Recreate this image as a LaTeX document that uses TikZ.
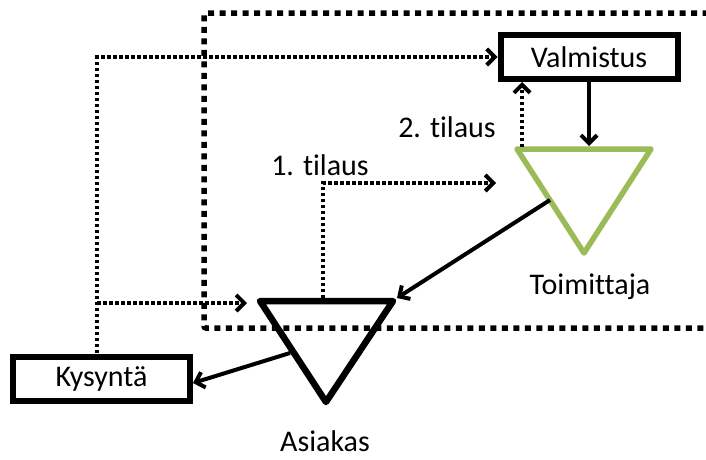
\documentclass[tikz,border=0pt]{standalone}
\usepackage{fontspec}
\setmainfont{Carlito}[Ligatures=NoCommon]
\usetikzlibrary{arrows.meta}
\definecolor{tgreen}{HTML}{9BBB59}
\begin{document}
\begin{tikzpicture}[x=1pt,y=-1pt,
  txt/.style={font=\fontsize{30}{33}\selectfont},
  box/.style={draw,line width=6pt,minimum width=177pt,minimum height=44pt,inner sep=0pt,txt},
  lbl/.style={inner sep=0pt,txt},
  barb/.style={-{Straight Barb[length=8pt,width=16pt]}},
  flow/.style={line width=4pt,barb},
  info/.style={line width=4pt,dash pattern=on 3.5pt off 2.5pt,barb},
  frame/.style={line width=5.5pt,dash pattern=on 6pt off 5.5pt}]
\useasboundingbox (0,0) rectangle (706,459);
\clip (0,0) rectangle (706,459);
% big dotted frame
\draw[frame,rounded corners=2pt] (720,13) -- (204,13) -- (204,328) -- (720,328);
% boxes
\node[box] (valm) at (589,57) {Valmistus};
\node[box] (kys) at (101.5,379) {Kysyntä};
% triangles
\draw[line width=5.5pt,tgreen,line join=round] (517,149) -- (651,149) -- (584,253) -- cycle;
\draw[line width=6.5pt,line join=round] (260,301) -- (393,301) -- (326,402) -- cycle;
\coordinate (toimTop) at (589,146);
\coordinate (toimDot) at (522,147);
\coordinate (toimSide) at (550,200);
\coordinate (asTR) at (397,298);
\coordinate (asLeft) at (290,353);
\coordinate (asTop) at (323,298);
\coordinate (asIn) at (247,303);
\coordinate (toimIn) at (496,183);
\coordinate (kysUp) at (97,353);
\coordinate (br) at (97,303);
% labels
\node[lbl] (toim) at (590,287) {Toimittaja};
\node[lbl] (asi) at (325,441) {Asiakas};
\node[lbl] (t1) at (320,165) {1. tilaus};
\node[lbl] (t2) at (447,127) {2. tilaus};
% connectors
\draw[info] (kysUp) |- (valm.west);
\draw[info] (br) -- (asIn);
\draw[info] (asTop) |- (toimIn);
\draw[info] (toimDot) -- (toimDot |- valm.south);
\draw[flow] (valm.south) -- (toimTop);
\draw[flow] (toimSide) -- (asTR);
\draw[flow] (asLeft) -- ([yshift=-4pt]kys.east);
\end{tikzpicture}
\end{document}
